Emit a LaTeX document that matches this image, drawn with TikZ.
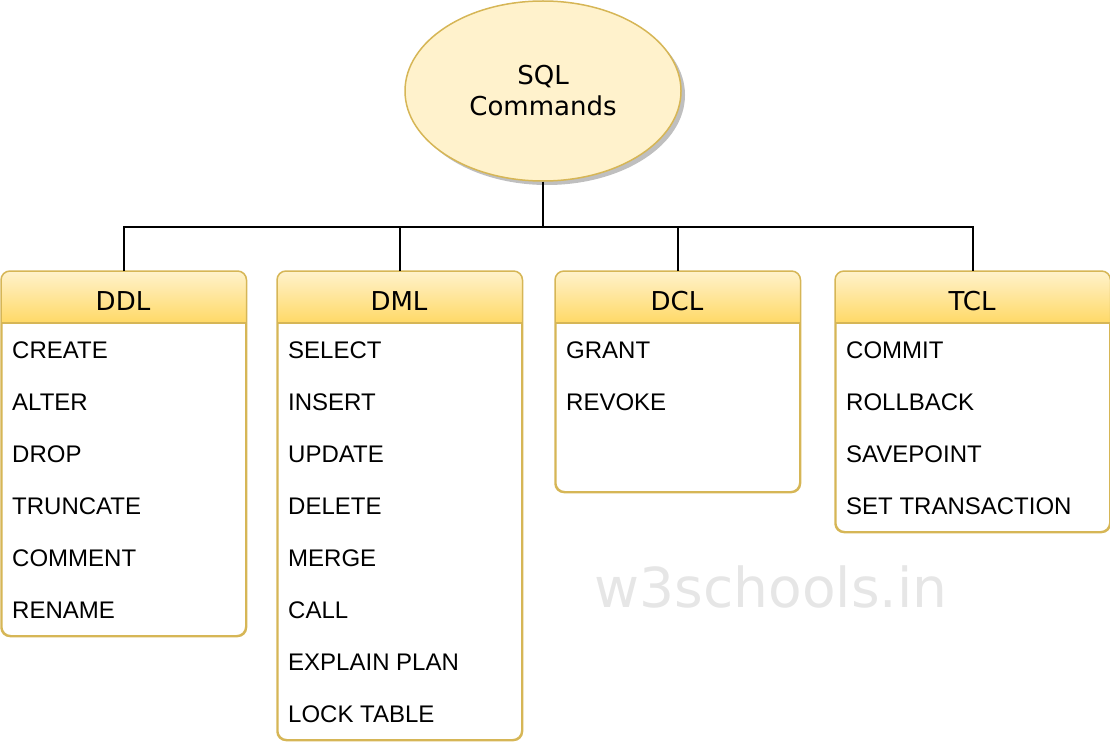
\documentclass[tikz,border=0pt]{standalone}
\usepackage{fontspec}
\setmainfont{Liberation Sans}
\newfontfamily\dejavu{DejaVu Sans}
\usetikzlibrary{shapes.geometric,shadows}
\definecolor{bord}{HTML}{D6B656}
\definecolor{ellfill}{HTML}{FFF2CC}
\definecolor{hdtop}{HTML}{FFF2CC}
\definecolor{hdmid}{HTML}{FFE597}
\definecolor{hdbot}{HTML}{FFD966}
\definecolor{wm}{HTML}{E6E6E6}
\tikzset{
  root/.style={ellipse, draw=bord, line width=1.5pt, fill=ellfill, minimum width=276pt, minimum height=180pt, inner sep=0pt,
    font=\dejavu\fontsize{26}{31}\selectfont, align=center,
    drop shadow={shadow xshift=4pt, shadow yshift=-4pt, fill=black!25, opacity=1}},
  box/.style={draw=bord, fill=white, rounded corners=9pt, line width=1.5pt, anchor=north west, inner sep=0pt, minimum height=#1},
  headbg/.style={top color=hdtop, middle color=hdmid, bottom color=hdbot},
  head/.style={anchor=base, font=\dejavu\fontsize{26}{31}\selectfont, inner sep=0pt},
  item/.style={anchor=base west, font=\fontsize{24}{28}\selectfont, inner sep=0pt},
  conn/.style={line width=2pt, black}
}
\newcommand{\headerband}[1]{%
  \begin{scope}
    \clip[rounded corners=9pt] (#1.north west) rectangle (#1.south east);
    \shade[headbg] (#1.north west) rectangle ([yshift=-52pt]#1.north east);
  \end{scope}
  \draw[bord, line width=1.5pt] ([yshift=-52pt]#1.north west) -- ([yshift=-52pt]#1.north east);
  \draw[bord, line width=1.5pt, rounded corners=9pt] (#1.north west) rectangle (#1.south east);
}
\begin{document}
\begin{tikzpicture}[x=1pt,y=1pt]
\useasboundingbox (0,0) rectangle (1110,-746);
\node[font=\dejavu\fontsize{55}{60}\selectfont, text=wm, anchor=base, inner sep=0pt] (wmark) at (771,-607) {w3schools.in};
\node[root] (sql) at (543,-91) {SQL\\Commands};
% boxes
\node[box=364pt, minimum width=244pt] (ddl) at (1,-271) {};
\node[box=468pt, minimum width=244pt] (dml) at (277,-271) {};
\node[box=220pt, minimum width=244pt] (dcl) at (555,-271) {};
\node[box=260pt, minimum width=274pt] (tcl) at (835,-271) {};
\headerband{ddl}
\headerband{dml}
\headerband{dcl}
\headerband{tcl}
\node[head] (ddlh) at (123,-310) {DDL};
\node[head] (dmlh) at (399,-310) {DML};
\node[head] (dclh) at (677,-310) {DCL};
\node[head] (tclh) at (972,-310) {TCL};
% connectors
\coordinate (bus) at (543,-227);
\draw[conn] (sql.south) -- (bus);
\draw[conn] (ddl.north) |- (bus) -| (tcl.north);
\draw[conn] (dml.north) -- (dml.north |- bus);
\draw[conn] (dcl.north) -- (dcl.north |- bus);
% items
\node[item] (d1) at (12,-358) {CREATE};
\node[item] (d2) at (12,-410) {ALTER};
\node[item] (d3) at (12,-462) {DROP};
\node[item] (d4) at (12,-514) {TRUNCATE};
\node[item] (d5) at (12,-566) {COMMENT};
\node[item] (d6) at (12,-618) {RENAME};
\node[item] (m1) at (288,-358) {SELECT};
\node[item] (m2) at (288,-410) {INSERT};
\node[item] (m3) at (288,-462) {UPDATE};
\node[item] (m4) at (288,-514) {DELETE};
\node[item] (m5) at (288,-566) {MERGE};
\node[item] (m6) at (288,-618) {CALL};
\node[item] (m7) at (288,-670) {EXPLAIN PLAN};
\node[item] (m8) at (288,-722) {LOCK TABLE};
\node[item] (c1) at (566,-358) {GRANT};
\node[item] (c2) at (566,-410) {REVOKE};
\node[item] (t1) at (846,-358) {COMMIT};
\node[item] (t2) at (846,-410) {ROLLBACK};
\node[item] (t3) at (846,-462) {SAVEPOINT};
\node[item] (t4) at (846,-514) {SET TRANSACTION};
\end{tikzpicture}
\end{document}
